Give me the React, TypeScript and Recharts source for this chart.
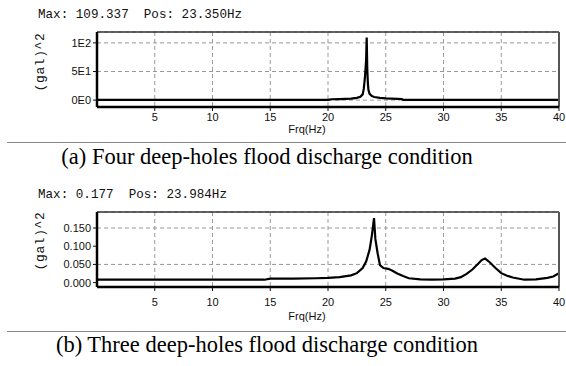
import React from "react";
import { LineChart, Line, XAxis, YAxis, CartesianGrid, ReferenceLine } from "recharts";

const xTicks = [5, 10, 15, 20, 25, 30, 35, 40];

const freqA = [0, 5, 10, 15, 20, 20.3, 21, 22, 22.5, 22.8, 23.0, 23.1, 23.2, 23.3, 23.35, 23.4, 23.45, 23.5, 23.6, 23.8, 24, 24.5, 25, 26, 26.4, 26.5, 30, 35, 40];
const ampA = [0.6, 0.6, 0.6, 0.6, 0.6, 1.5, 1.8, 2.5, 4, 6, 10, 20, 40, 70, 109.337, 55, 30, 18, 11, 7, 5.5, 4, 3, 2.2, 2, 0.6, 0.6, 0.6, 0.6];
const yTicksA = [0, 50, 100];
const yLabelsA = ["0E0", "5E1", "1E2"];
const domainA: [number, number] = [-12, 119];

const freqB = [0, 5, 10, 14.5, 15, 17, 19, 20, 21, 22, 22.5, 23, 23.3, 23.6, 23.8, 23.984, 24.1, 24.3, 24.5, 24.8, 25.2, 25.5, 26, 26.5, 27, 28, 29, 30, 31, 31.5, 32, 32.5, 33, 33.3, 33.6, 34, 34.5, 35, 35.5, 36, 37, 38, 39, 39.5, 40];
const ampB = [0.008, 0.008, 0.008, 0.008, 0.011, 0.011, 0.012, 0.013, 0.015, 0.02, 0.026, 0.04, 0.058, 0.09, 0.13, 0.177, 0.12, 0.08, 0.048, 0.04, 0.038, 0.034, 0.025, 0.018, 0.012, 0.009, 0.008, 0.009, 0.011, 0.015, 0.024, 0.036, 0.052, 0.062, 0.066, 0.056, 0.04, 0.026, 0.019, 0.014, 0.008, 0.009, 0.013, 0.017, 0.026];
const yTicksB = [0, 0.05, 0.1, 0.15];
const yLabelsB = ["0.000", "0.050", "0.100", "0.150"];
const domainB: [number, number] = [-0.012, 0.194];

const headerA = "Max: 109.337  Pos: 23.350Hz";
const headerB = "Max: 0.177  Pos: 23.984Hz";
const captionA = "(a) Four deep-holes flood discharge condition";
const captionB = "(b) Three deep-holes flood discharge condition";
const yName = "(gal)^2";
const xName = "Frq(Hz)";

const tickFont = { fontFamily: "'Liberation Sans', Arial, sans-serif", fontSize: 11, fill: "#111" };
const mono = "'Liberation Mono', 'DejaVu Sans Mono', monospace";

function Spectrum(props: {
  freq: number[];
  amp: number[];
  yTicks: number[];
  yLabels: string[];
  domain: [number, number];
  top: number;
  header: string;
  caption: string;
  yLabelCenter: number;
  shift: number;
}) {
  const { freq, amp, yTicks, yLabels, domain, top, header, caption, yLabelCenter, shift } = props;
  const data = freq.map((f, i) => ({ f, a: amp[i] }));
  const fmt = (v: number) => {
    const idx = yTicks.findIndex((t) => Math.abs(t - v) < 1e-9);
    return idx >= 0 ? yLabels[idx] : "";
  };
  return (
    <div style={{ position: "absolute", left: 0, top, width: 566, height: 190 }}>
      <div style={{ position: "absolute", left: 38, top: 7, fontFamily: mono, fontSize: 12.6, lineHeight: "16px", whiteSpace: "pre", color: "#111" }}>
        {header}
      </div>
      <div
        style={{
          position: "absolute",
          left: 41 - 40,
          top: yLabelCenter - 8,
          width: 80,
          height: 16,
          lineHeight: "16px",
          textAlign: "center",
          fontFamily: mono,
          fontSize: 13,
          letterSpacing: 0.6,
          color: "#111",
          transform: "rotate(-90deg)",
          whiteSpace: "pre",
        }}
      >
        {yName}
      </div>
      <div style={{ position: "absolute", left: 0, top: 0 }}>
        <LineChart width={566} height={150} data={data} margin={{ top: 32, right: 7, bottom: 10, left: 0 }}>
          <CartesianGrid stroke="#999" strokeDasharray="4 3" vertical={true} horizontal={true} />
          <XAxis
            dataKey="f"
            type="number"
            domain={[0, 40]}
            ticks={xTicks}
            height={33}
            axisLine={false}
            tickLine={{ stroke: "#111" }}
            tickSize={4}
            tickMargin={2 + shift.valueOf() * 0 + (shift > 0 ? 5 : 0)}
            tick={tickFont}
            allowDataOverflow
          />
          <YAxis
            type="number"
            domain={domain}
            ticks={yTicks}
            width={97}
            axisLine={false}
            tickLine={{ stroke: "#111" }}
            tickSize={4}
            tickMargin={2}
            tick={tickFont}
            tickFormatter={fmt}
            allowDataOverflow
          />
          <Line dataKey="a" type="linear" stroke="#000" strokeWidth={2.2} dot={false} isAnimationActive={false} />
          <ReferenceLine y={domain[1]} stroke="#333" strokeWidth={1.5} />
          <ReferenceLine x={40} stroke="#555" strokeWidth={2} />
          <ReferenceLine y={domain[0]} stroke="#000" strokeWidth={2.5} />
          <ReferenceLine x={0} stroke="#000" strokeWidth={2.5} />
        </LineChart>
      </div>
      <div style={{ position: "absolute", left: 277, top: 122 + (shift > 0 ? 7 : 0), width: 60, textAlign: "center", fontFamily: "'Liberation Sans', Arial, sans-serif", fontSize: 11, lineHeight: "14px", color: "#111" }}>
        {xName}
      </div>
      <div style={{ position: "absolute", left: 7, top: 142 + shift, width: 559, height: 1, background: "#888" }} />
      <div style={{ position: "absolute", left: 0, top: 144 + (shift > 0 ? shift - 1 : 0), width: 534, textAlign: "center", fontFamily: "'Liberation Serif', 'Times New Roman', serif", fontSize: 22.5, lineHeight: "26px", color: "#000", whiteSpace: "pre" }}>
        {caption}
      </div>
    </div>
  );
}

export default function App() {
  return (
    <div style={{ position: "absolute", left: 0, top: 0, width: 566, height: 366, background: "#fff", overflow: "hidden" }}>
      <Spectrum freq={freqA} amp={ampA} yTicks={yTicksA} yLabels={yLabelsA} domain={domainA} top={0} header={headerA} caption={captionA} yLabelCenter={62} shift={0} />
      <Spectrum freq={freqB} amp={ampB} yTicks={yTicksB} yLabels={yLabelsB} domain={domainB} top={180} header={headerB} caption={captionB} yLabelCenter={61} shift={9} />
    </div>
  );
}
